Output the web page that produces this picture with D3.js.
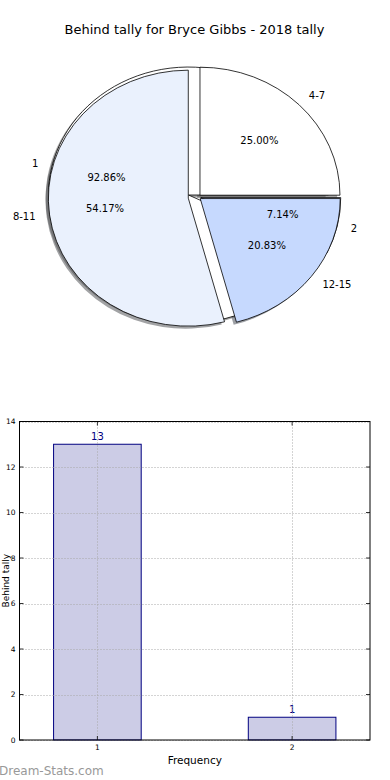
<!DOCTYPE html>
<html>
<head>
<meta charset="utf-8">
<script src="https://cdn.jsdelivr.net/npm/d3@7"></script>
<style>
  body { margin: 0; background: #fff; }
  svg { display: block; font-family: "DejaVu Sans", sans-serif; }
</style>
</head>
<body>
<div id="chart"></div>
<script>
// pie data (two pies drawn on top of each other)
var outerLabels = ["4-7", "8-11", "12-15"];
var outerCounts = [6, 13, 5];
var innerLabels = ["1", "2"];
var innerCounts = [13, 1];

// bar data
var barCats = [1, 2];
var barValues = [13, 1];
var yTicks = [0, 2, 4, 6, 8, 10, 12, 14];

var pieColors = ["#ffffff", "#eaf1fd", "#c6d9fe"];
var outerExplode = [0.02, 0.07, 0.02];
var innerExplode = [0.07, 0.02];

var W = 390, H = 780;
var svg = d3.select("#chart").append("svg")
    .attr("width", W)
    .attr("height", H);

svg.append("text")
    .attr("x", 194.5)
    .attr("y", 34)
    .attr("text-anchor", "middle")
    .attr("font-size", 13)
    .attr("fill", "#000")
    .text("Behind tally for Bryce Gibbs - 2018 tally");

// ---- pie ----
var cx = 198, cy = 197, rx = 140, ry = 128;

// matplotlib style: start at 3 o'clock, counter clockwise
var pie = d3.pie().sort(null).value(function(d) { return d; })
    .startAngle(Math.PI / 2)
    .endAngle(Math.PI / 2 - 2 * Math.PI);

var arc = d3.arc().innerRadius(0).outerRadius(1);

function pieParts(counts, labels, explode) {
    var total = d3.sum(counts);
    return pie(counts).map(function(a, i) {
        var mid = (a.startAngle + a.endAngle) / 2;
        return {
            arc: a,
            label: labels[i],
            pct: d3.format(".2f")(counts[i] / total * 100) + "%",
            color: pieColors[i % pieColors.length],
            ex: explode[i],
            sx: Math.sin(mid),
            sy: -Math.cos(mid)
        };
    });
}

var inner = pieParts(innerCounts, innerLabels, innerExplode);
var outer = pieParts(outerCounts, outerLabels, outerExplode);

var pieG = svg.append("g")
    .attr("transform", "translate(" + cx + "," + cy + ") scale(" + rx + "," + ry + ")");

function shade(c) {
    var k = d3.rgb(c);
    return d3.rgb(k.r * 0.3, k.g * 0.3, k.b * 0.3).toString();
}

// shadows first (below every wedge)
inner.concat(outer).forEach(function(p) {
    pieG.append("path")
        .attr("d", arc(p.arc))
        .attr("transform", "translate(" + (p.ex * p.sx - 0.02) + "," + (p.ex * p.sy + 0.02) + ")")
        .attr("fill", shade(p.color))
        .attr("fill-opacity", 0.5)
        .attr("stroke", "none");
});

inner.concat(outer).forEach(function(p) {
    pieG.append("path")
        .attr("d", arc(p.arc))
        .attr("transform", "translate(" + (p.ex * p.sx) + "," + (p.ex * p.sy) + ")")
        .attr("fill", p.color)
        .attr("stroke", "#000")
        .attr("stroke-width", 0.8)
        .attr("vector-effect", "non-scaling-stroke")
        .attr("stroke-linejoin", "round");
});

inner.concat(outer).forEach(function(p) {
    var ox = cx + p.ex * p.sx * rx, oy = cy + p.ex * p.sy * ry;
    svg.append("text")
        .attr("x", ox + 1.1 * p.sx * rx)
        .attr("y", oy + 1.1 * p.sy * ry)
        .attr("text-anchor", p.sx > 0 ? "start" : "end")
        .attr("dominant-baseline", "central")
        .attr("font-size", 10)
        .text(p.label);
    svg.append("text")
        .attr("x", ox + 0.6 * p.sx * rx)
        .attr("y", oy + 0.6 * p.sy * ry)
        .attr("text-anchor", "middle")
        .attr("dominant-baseline", "central")
        .attr("font-size", 10)
        .text(p.pct);
});

// ---- bars ----
var pLeft = 19.5, pRight = 370, pTop = 421.5, pBottom = 740;

var x = d3.scaleLinear().domain([0.6, 2.4]).range([pLeft, pRight]);
var y = d3.scaleLinear().domain([0, 14]).range([pBottom, pTop]);
var barW = 0.45;

var bars = svg.append("g");
bars.selectAll("rect")
    .data(barValues)
    .enter()
    .append("rect")
    .attr("x", function(d, i) { return x(barCats[i] - barW / 2); })
    .attr("y", function(d) { return y(d); })
    .attr("width", function() { return x(barW) - x(0); })
    .attr("height", function(d) { return y(0) - y(d); })
    .attr("fill", "#cccce6")
    .attr("stroke", "#000080")
    .attr("stroke-width", 1);

// dotted grid on top of bars
var grid = svg.append("g")
    .attr("stroke", "#a8a8a8")
    .attr("stroke-width", 1)
    .attr("stroke-dasharray", "1,2");
yTicks.forEach(function(t) {
    grid.append("line")
        .attr("x1", pLeft).attr("x2", pRight)
        .attr("y1", Math.round(y(t)) + 0.5).attr("y2", Math.round(y(t)) + 0.5);
});
barCats.forEach(function(c) {
    grid.append("line")
        .attr("x1", Math.round(x(c)) + 0.5).attr("x2", Math.round(x(c)) + 0.5)
        .attr("y1", pTop).attr("y2", pBottom);
});

bars.selectAll("text.val")
    .data(barValues)
    .enter()
    .append("text")
    .attr("class", "val")
    .attr("x", function(d, i) { return x(barCats[i]); })
    .attr("y", function(d) { return y(d) - 4; })
    .attr("text-anchor", "middle")
    .attr("font-size", 10)
    .attr("fill", "#000080")
    .text(function(d) { return d; });

// frame
svg.append("rect")
    .attr("x", pLeft).attr("y", pTop)
    .attr("width", pRight - pLeft).attr("height", pBottom - pTop)
    .attr("fill", "none")
    .attr("stroke", "#000")
    .attr("stroke-width", 1);

// ticks
var tk = svg.append("g").attr("stroke", "#000").attr("stroke-width", 0.8);
yTicks.forEach(function(t) {
    tk.append("line").attr("x1", pLeft).attr("x2", pLeft + 4).attr("y1", y(t)).attr("y2", y(t));
    tk.append("line").attr("x1", pRight - 4).attr("x2", pRight).attr("y1", y(t)).attr("y2", y(t));
    svg.append("text")
        .attr("x", pLeft - 4)
        .attr("y", y(t))
        .attr("text-anchor", "end")
        .attr("dominant-baseline", "central")
        .attr("font-size", 7.5)
        .text(t);
});
barCats.forEach(function(c) {
    tk.append("line").attr("x1", x(c)).attr("x2", x(c)).attr("y1", pBottom).attr("y2", pBottom - 4);
    tk.append("line").attr("x1", x(c)).attr("x2", x(c)).attr("y1", pTop).attr("y2", pTop + 4);
    svg.append("text")
        .attr("x", x(c))
        .attr("y", pBottom + 10)
        .attr("text-anchor", "middle")
        .attr("font-size", 7.5)
        .text(c);
});

svg.append("text")
    .attr("x", (pLeft + pRight) / 2)
    .attr("y", 764)
    .attr("text-anchor", "middle")
    .attr("font-size", 10.5)
    .text("Frequency");

svg.append("text")
    .attr("transform", "translate(9," + ((pTop + pBottom) / 2) + ") rotate(-90)")
    .attr("text-anchor", "middle")
    .attr("font-size", 9)
    .text("Behind tally");

svg.append("text")
    .attr("x", -1)
    .attr("y", 775)
    .attr("font-size", 12)
    .attr("fill", "#999999")
    .text("Dream-Stats.com");
</script>
</body>
</html>
